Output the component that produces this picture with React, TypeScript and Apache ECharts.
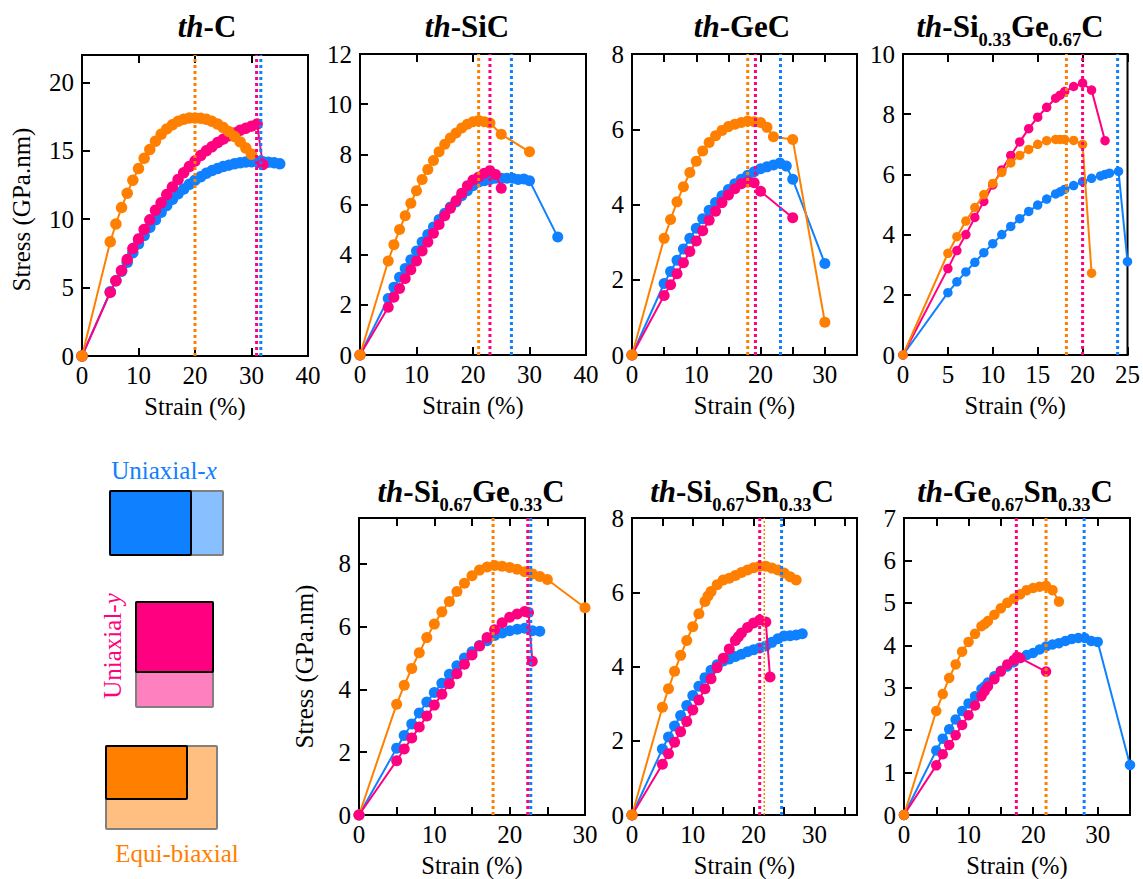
import React, { useEffect, useRef } from "react";
import * as echarts from "echarts";

const BLUE = "#0f80ff", PINK = "#ff0080", ORANGE = "#ff8000";
const FONT = '"Liberation Serif", "Times New Roman", serif';

// th-C
const cBlueX = [0,5,6,7,8,9,10,11,12,13,14,15,16,17,18,19,20,21,22,23,24,25,26,27,28,29,30,31,32,33,34,35];
const cBlueY = [0,4.7,5.5,6.2,6.85,7.55,8.2,8.8,9.4,9.95,10.5,11,11.45,11.85,12.2,12.55,12.85,13.1,13.35,13.55,13.7,13.85,13.95,14.05,14.12,14.18,14.2,14.22,14.2,14.17,14.12,14.05];
const cPinkX = [0,5,6,7,8,9,10,11,12,13,14,15,16,17,18,19,20,21,22,23,24,25,26,27,28,29,30,31,32];
const cPinkY = [0,4.65,5.5,6.25,7.05,7.85,8.55,9.25,9.95,10.65,11.2,11.8,12.35,12.9,13.4,13.85,14.25,14.65,15,15.3,15.6,15.85,16.1,16.3,16.5,16.65,16.8,16.95,14];
const cOrangeX = [0,5,6,7,8,9,10,11,12,13,14,15,16,17,18,19,20,21,22,23,24,25,26,27,28,29,30];
const cOrangeY = [0,8.35,9.65,10.85,11.9,12.85,13.7,14.45,15.1,15.7,16.2,16.6,16.9,17.15,17.3,17.4,17.4,17.38,17.3,17.15,16.95,16.7,16.4,16.05,15.65,15.2,14.75];

// th-SiC
const sBlueX = [0,5,6,7,8,9,10,11,12,13,14,15,16,17,18,19,20,21,22,23,24,25,26,27,28,29,30,35];
const sBlueY = [0,2.25,2.7,3.1,3.45,3.8,4.15,4.5,4.8,5.1,5.4,5.65,5.9,6.1,6.35,6.55,6.75,6.9,6.95,7,7.05,7.05,7.05,7.05,7,7.02,6.95,4.7];
const sPinkX = [0,5,6,7,8,9,10,11,12,13,14,15,16,17,18,19,20,21,22,23,24,25];
const sPinkY = [0,1.9,2.3,2.65,3.05,3.4,3.75,4.15,4.5,4.85,5.2,5.55,5.85,6.15,6.45,6.75,6.98,7.1,7.25,7.35,7.2,6.65];
const sOrangeX = [0,5,6,7,8,9,10,11,12,13,14,15,16,17,18,19,20,21,22,23,25,30];
const sOrangeY = [0,3.75,4.4,5,5.55,6.05,6.55,7,7.4,7.75,8.1,8.4,8.65,8.85,9.05,9.2,9.3,9.35,9.3,9.25,8.8,8.1];

// th-GeC
const gBlueX = [0,5,6,7,8,9,10,11,12,13,14,15,16,17,18,19,20,21,22,23,24,25,30];
const gBlueY = [0,1.9,2.22,2.52,2.82,3.1,3.37,3.62,3.85,4.05,4.23,4.4,4.55,4.67,4.78,4.87,4.95,5,5.05,5.1,5.02,4.67,2.43];
const gPinkX = [0,5,6,7,8,9,10,11,12,13,14,15,16,17,18,19,20,25];
const gPinkY = [0,1.58,1.87,2.16,2.45,2.75,3.03,3.3,3.58,3.82,4.05,4.25,4.42,4.55,4.6,4.58,4.35,3.65];
const gOrangeX = [0,5,6,7,8,9,10,11,12,13,14,15,16,17,18,19,20,21,22,25,30];
const gOrangeY = [0,3.1,3.6,4.07,4.47,4.85,5.15,5.42,5.65,5.83,5.97,6.07,6.13,6.18,6.22,6.2,6.18,6.05,5.8,5.73,0.87];

// th-Si0.33Ge0.67C
const sg1BlueX = [0,5,6,7,8,9,10,11,12,13,14,15,16,17,17.5,18,19,20,21,22,22.5,23,24,25];
const sg1BlueY = [0,2.07,2.43,2.76,3.08,3.4,3.7,4,4.27,4.53,4.77,4.98,5.18,5.35,5.42,5.5,5.63,5.76,5.87,5.95,6,6.04,6.1,3.1];
const sg1PinkX = [0,5,6,7,8,9,10,11,12,13,14,15,16,17,17.5,18,19,20,21,22.5];
const sg1PinkY = [0,2.87,3.47,4,4.57,5.1,5.65,6.15,6.63,7.08,7.52,7.9,8.23,8.53,8.63,8.75,8.92,9.03,8.8,7.12];
const sg1OrangeX = [0,5,6,7,8,9,10,11,12,13,14,15,16,17,17.5,18,19,20,21];
const sg1OrangeY = [0,3.38,3.93,4.45,4.9,5.33,5.7,6.07,6.38,6.63,6.83,7,7.12,7.16,7.16,7.16,7.13,7,2.72];

// th-Si0.67Ge0.33C
const sg2BlueX = [0,5,6,7,8,9,10,11,12,13,14,15,16,17,18,19,20,21,22,23,24];
const sg2BlueY = [0,2.13,2.53,2.9,3.25,3.6,3.9,4.2,4.48,4.75,5,5.2,5.4,5.55,5.72,5.8,5.87,5.92,5.95,5.87,5.85];
const sg2PinkX = [0,5,6,7,8,9,10,11,12,13,14,15,16,17,18,19,20,21,22,22.5,23];
const sg2PinkY = [0,1.73,2.1,2.45,2.8,3.15,3.5,3.85,4.18,4.5,4.8,5.1,5.38,5.65,5.9,6.12,6.3,6.4,6.48,6.45,4.9];
const sg2OrangeX = [0,5,6,7,8,9,10,11,12,13,14,15,16,17,18,19,20,21,22,23,24,25,30];
const sg2OrangeY = [0,3.53,4.13,4.67,5.17,5.65,6.08,6.47,6.8,7.12,7.38,7.62,7.8,7.9,7.95,7.92,7.88,7.83,7.75,7.68,7.6,7.5,6.6];

// th-Si0.67Sn0.33C
const ssBlueX = [0,5,6,7,8,9,10,11,12,13,14,15,16,17,18,19,20,21,22,23,24,25,26,27,28];
const ssBlueY = [0,1.78,2.1,2.4,2.68,2.95,3.22,3.47,3.7,3.9,4.05,4.15,4.2,4.27,4.33,4.4,4.45,4.5,4.55,4.65,4.75,4.82,4.83,4.85,4.88];
const ssPinkX = [0,5,6,7,8,9,10,11,12,13,14,15,16,17,17.5,18,19,20,21,22,22.7];
const ssPinkY = [0,1.37,1.65,1.96,2.24,2.52,2.83,3.1,3.4,3.67,3.97,4.22,4.47,4.7,4.8,4.9,5.05,5.17,5.25,5.2,3.72];
const ssOrangeX = [0,5,6,7,8,9,10,11,12,12.5,13,14,15,16,17,18,19,20,21,22,23,24,25,26,27];
const ssOrangeY = [0,2.9,3.4,3.87,4.3,4.7,5.07,5.42,5.75,5.9,6.02,6.2,6.33,6.38,6.45,6.53,6.6,6.66,6.7,6.7,6.65,6.6,6.52,6.42,6.33];

// th-Ge0.67Sn0.33C
const gsBlueX = [0,5,6,7,8,9,10,11,12,12.5,13,14,15,16,17,18,19,20,21,22,23,24,25,26,27,28,29,30,35];
const gsBlueY = [0,1.52,1.8,2.02,2.25,2.45,2.63,2.8,2.97,3.03,3.12,3.27,3.4,3.5,3.6,3.7,3.77,3.82,3.9,3.97,4.02,4.05,4.1,4.15,4.17,4.17,4.1,4.08,1.18];
const gsPinkX = [0,5,6,7,8,9,10,11,12,12.5,13,14,15,16,17,17.5,18,22];
const gsPinkY = [0,1.17,1.43,1.65,1.88,2.12,2.35,2.58,2.8,2.92,3.03,3.2,3.38,3.55,3.65,3.73,3.7,3.38];
const gsOrangeX = [0,5,6,7,8,9,10,11,12,12.5,13,14,15,16,17,18,19,20,21,22,23,24];
const gsOrangeY = [0,2.45,2.85,3.23,3.55,3.85,4.08,4.27,4.45,4.5,4.57,4.72,4.87,5,5.1,5.2,5.3,5.35,5.38,5.4,5.3,5.03];

// failure-strain markers [uniaxial-x, uniaxial-y, equi-biaxial]
const cFail = [31.65, 30.9, 20];
const sFail = [26.8, 23, 21];
const gFail = [23.1, 19.2, 18];
const sg1Fail = [23.9, 20, 18.2];
const sg2Fail = [22.8, 22.4, 17.8];
const ssFail = [24.6, 21, 21.75];
const gsFail = [27.9, 17.4, 22];

const panels = [
  { title: "{i|th}{b|-C}", tx: 207, ty: 11, box: [82, 55, 226, 301], xMax: 40, yMax: 22, xTick: 10, xLab: 10, yTick: 5, yLab: 5, name: 60, namePad: [0, 8, 0, 0], size: 11.5,
    blue: [cBlueX, cBlueY], pink: [cPinkX, cPinkY], orange: [cOrangeX, cOrangeY], fail: cFail },
  { title: "{i|th}{b|-SiC}", tx: 467, ty: 11, box: [360, 54, 226, 301], xMax: 40, yMax: 12, xTick: 10, xLab: 10, yTick: 2, yLab: 2, size: 11,
    blue: [sBlueX, sBlueY], pink: [sPinkX, sPinkY], orange: [sOrangeX, sOrangeY], fail: sFail },
  { title: "{i|th}{b|-GeC}", tx: 742, ty: 11, box: [632, 54, 225, 301], xMax: 35, yMax: 8, xTick: 5, xLab: 10, yTick: 2, yLab: 2, size: 11,
    blue: [gBlueX, gBlueY], pink: [gPinkX, gPinkY], orange: [gOrangeX, gOrangeY], fail: gFail },
  { title: "{i|th}{b|-Si}{s|0.33}{b|Ge}{s|0.67}{b|C}", tx: 1010, ty: 11, box: [903, 54, 227, 301], xMax: 25, yMax: 10, xTick: 5, xLab: 5, yTick: 2, yLab: 2, size: 9.5,
    blue: [sg1BlueX, sg1BlueY], pink: [sg1PinkX, sg1PinkY], orange: [sg1OrangeX, sg1OrangeY], fail: sg1Fail },
  { title: "{i|th}{b|-Si}{s|0.67}{b|Ge}{s|0.33}{b|C}", tx: 471, ty: 476, box: [359, 518, 226, 299], xMax: 30, yMax: 9.46, xTick: 5, xLab: 10, yTick: 2, yLab: 2, name: 54, pinkOnTop: true, size: 11,
    blue: [sg2BlueX, sg2BlueY], pink: [sg2PinkX, sg2PinkY], orange: [sg2OrangeX, sg2OrangeY], fail: sg2Fail },
  { title: "{i|th}{b|-Si}{s|0.67}{b|Sn}{s|0.33}{b|C}", tx: 742, ty: 476, box: [632, 518, 225, 299], xMax: 37, yMax: 8, xTick: 5, xLab: 10, yTick: 2, yLab: 2, thinOrange: true, size: 11,
    blue: [ssBlueX, ssBlueY], pink: [ssPinkX, ssPinkY], orange: [ssOrangeX, ssOrangeY], fail: ssFail },
  { title: "{i|th}{b|-Ge}{s|0.67}{b|Sn}{s|0.33}{b|C}", tx: 1015, ty: 476, box: [904, 518, 226, 299], xMax: 35, yMax: 7, xTick: 5, xLab: 10, yTick: 1, yLab: 1, size: 10.5,
    blue: [gsBlueX, gsBlueY], pink: [gsPinkX, gsPinkY], orange: [gsOrangeX, gsOrangeY], fail: gsFail },
];

const zip = (xs: number[], ys: number[]) => xs.map((x, i) => [x, ys[i]]);

function buildOption() {
  const grid: any[] = [], xAxis: any[] = [], yAxis: any[] = [], series: any[] = [], title: any[] = [];
  const tick = { show: true, inside: true, length: 8, lineStyle: { color: "#000", width: 2 } };
  const lineBase = { show: true, onZero: false, lineStyle: { color: "#000", width: 2 } };
  panels.forEach((p: any, i) => {
    const [left, top, width, height] = p.box;
    grid.push({ left, top, width, height, show: true, borderColor: "#000", borderWidth: 2, backgroundColor: "transparent", containLabel: false });
    title.push({
      text: p.title, left: p.tx, top: p.ty, textAlign: "center", padding: 0,
      textStyle: {
        fontFamily: FONT, fontSize: 31, fontWeight: "bold", color: "#000",
        rich: {
          i: { fontFamily: FONT, fontSize: 31, fontWeight: "bold", fontStyle: "italic", color: "#000", lineHeight: 38, verticalAlign: "top" },
          b: { fontFamily: FONT, fontSize: 31, fontWeight: "bold", color: "#000", lineHeight: 38, verticalAlign: "top" },
          s: { fontFamily: FONT, fontSize: 18.5, fontWeight: "bold", color: "#000", lineHeight: 38, verticalAlign: "bottom" },
        },
      },
    });
    xAxis.push({
      gridIndex: i, type: "value", position: "bottom", min: 0, max: p.xMax, interval: p.xTick,
      name: "Strain (%)", nameLocation: "center", nameGap: 38,
      nameTextStyle: { fontFamily: FONT, fontSize: 24.5, color: "#000" },
      axisLine: lineBase, axisTick: tick, splitLine: { show: false },
      axisLabel: { show: true, margin: 7, fontFamily: FONT, fontSize: 25, color: "#000", hideOverlap: false,
        formatter: (v: number) => (v % p.xLab === 0 ? String(v) : "") },
    });
    xAxis.push({
      gridIndex: i, type: "value", position: "top", min: 0, max: p.xMax, interval: p.xTick,
      axisLine: lineBase, axisTick: tick, axisLabel: { show: false }, splitLine: { show: false },
    });
    yAxis.push({
      gridIndex: i, type: "value", position: "left", min: 0, max: p.yMax, interval: p.yTick,
      name: p.name ? "Stress (GPa.nm)" : "", nameLocation: "center", nameGap: p.name ? p.name - 12 : 0, nameRotate: 90,
      nameTextStyle: { fontFamily: FONT, fontSize: 25, color: "#000", padding: p.namePad || 0 },
      axisLine: lineBase, axisTick: tick, splitLine: { show: false },
      axisLabel: { show: true, margin: 8, fontFamily: FONT, fontSize: 25, color: "#000", hideOverlap: false,
        formatter: (v: number) => (v % p.yLab === 0 ? String(v) : "") },
    });
    const curve = (name: string, color: string, d: number[][], z: number) => ({
      name, type: "line", xAxisIndex: i * 2, yAxisIndex: i, data: zip(d[0], d[1]), clip: false, z,
      symbol: "circle", symbolSize: p.size, showSymbol: true, showAllSymbol: true,
      lineStyle: { color, width: 2 }, itemStyle: { color }, emphasis: { disabled: true },
    });
    series.push(curve("Uniaxial-x", BLUE, p.blue, 3));
    series.push(curve("Uniaxial-y", PINK, p.pink, p.pinkOnTop ? 5 : 4));
    series.push(curve("Equi-biaxial", ORANGE, p.orange, p.pinkOnTop ? 4 : 5));
    [BLUE, PINK, ORANGE].forEach((color, k) => {
      const thin = p.thinOrange && color === ORANGE;
      series.push({
        type: "line", xAxisIndex: i * 2, yAxisIndex: i, z: 6, symbol: "none", clip: false,
        data: [[p.fail[k], 0], [p.fail[k], p.yMax]],
        lineStyle: { color, width: thin ? 1.5 : 3, type: thin ? [2, 2] : [3, 3] }, emphasis: { disabled: true },
      });
    });
  });
  const box = (x: number, y: number, w: number, h: number, fill: string, stroke: string) => ({
    type: "rect", shape: { x, y, width: w, height: h, r: 1 }, style: { fill, stroke, lineWidth: 2 },
  });
  const label = (text: string, x: number, y: number, color: string, rot = 0) => ({
    type: "text", x, y, rotation: rot,
    style: {
      text, align: "center", verticalAlign: "middle", fill: color, fontFamily: FONT, fontSize: 25,
      rich: { it: { fontFamily: FONT, fontSize: 25, fontStyle: "italic", fill: color, color } },
    },
  });
  const graphic = [
    box(110, 491, 113, 64, "#87bfff", "#808080"),
    box(110, 491, 81, 64, BLUE, "#000"),
    box(136, 602, 77, 105, "#ff80bf", "#808080"),
    box(136, 602, 77, 70, PINK, "#000"),
    box(106, 746, 111, 83, "#ffbf80", "#808080"),
    box(106, 746, 81, 53, ORANGE, "#000"),
    label("Uniaxial-{it|x}", 164, 470, BLUE),
    label("Uniaxial-{it|y}", 112, 646, PINK, Math.PI / 2),
    label("Equi-biaxial", 177, 853, ORANGE),
  ];
  return { animation: false, backgroundColor: "#fff", title, grid, xAxis, yAxis, series, graphic, tooltip: { show: false } };
}

export default function App() {
  const ref = useRef<HTMLDivElement>(null);
  useEffect(() => {
    const chart = echarts.init(ref.current!, undefined, { renderer: "svg" });
    chart.setOption(buildOption() as any);
    return () => chart.dispose();
  }, []);
  return <div ref={ref} style={{ position: "absolute", left: 0, top: 0, width: 1143, height: 879 }} />;
}
